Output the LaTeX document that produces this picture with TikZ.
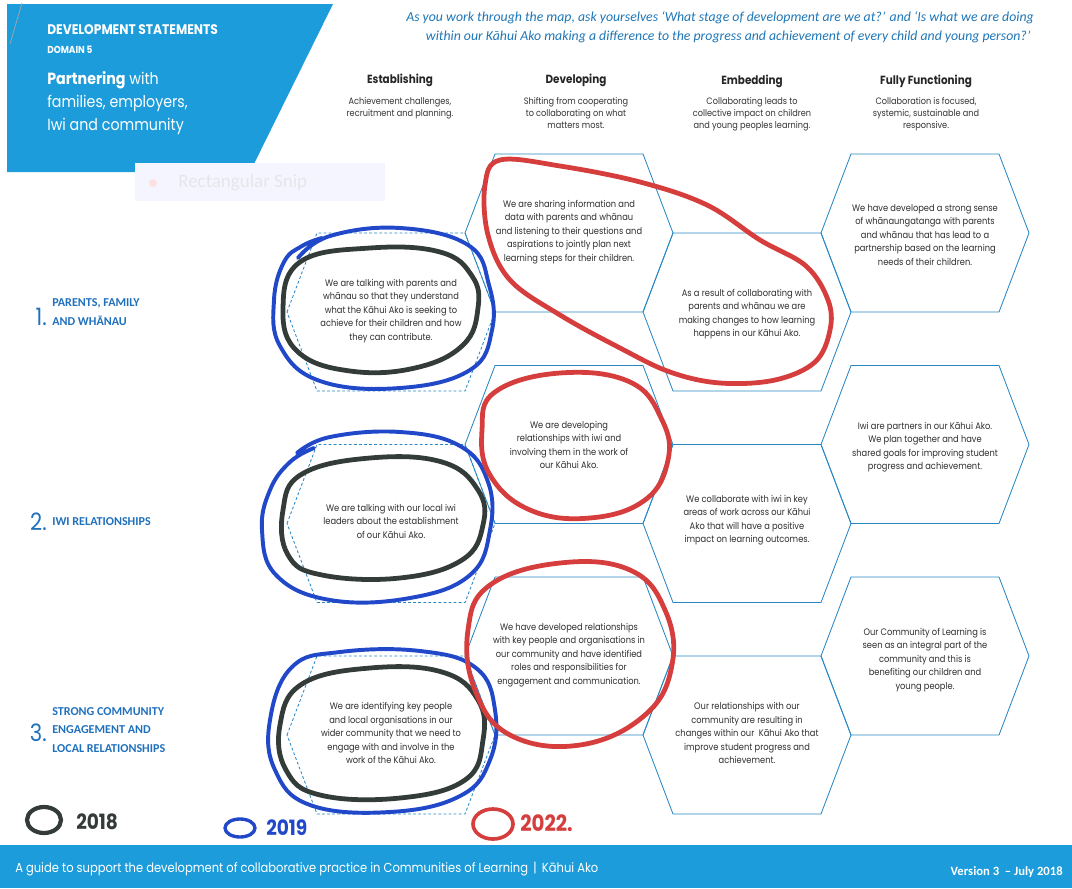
\documentclass[tikz,border=0pt]{standalone}
\usepackage{fontspec}
\setmainfont{Poppins}[FakeStretch=0.88]
\newfontfamily\calfont{Carlito}

\definecolor{guideblue}{RGB}{28,156,218}
\definecolor{hexblue}{RGB}{40,135,195}
\definecolor{rowblue}{RGB}{32,112,188}
\definecolor{asktext}{RGB}{30,118,182}
\definecolor{bodytext}{RGB}{45,45,45}
\definecolor{inkblack}{RGB}{52,60,57}
\definecolor{inkblue}{RGB}{32,72,200}
\definecolor{inkred}{RGB}{214,62,62}

\tikzset{
	hexline/.style={draw=hexblue, line width=0.6pt},
	hexdash/.style={hexline, dash pattern=on 2pt off 1.6pt},
	cell/.style={align=center, inner sep=0pt, text=bodytext, font=\fontsize{6.7}{9.6}\selectfont},
	stage/.style={inner sep=0pt, text=black!85, font=\fontsize{8.4}{10}\selectfont\bfseries},
	stagenote/.style={align=center, inner sep=0pt, text=black!80, font=\fontsize{6.6}{8.6}\selectfont},
	rownum/.style={anchor=east, inner sep=0pt, text=rowblue, font=\fontsize{17}{17}\selectfont},
	rowname/.style={anchor=west, align=left, inner sep=0pt, text=rowblue, font=\calfont\bfseries\fontsize{8.6}{13.4}\selectfont},
	ink/.style={line width=3.4pt, line cap=round, line join=round},
}

\begin{document}
\begin{tikzpicture}[x=0.025cm,y=-0.025cm]
	\useasboundingbox (0,0) rectangle (1072,888);

	% title panel and footer bar
	\fill[guideblue] (7,4) -- (333,4) -- (250,172) -- (7,172) -- cycle;
	\draw[gray!70, line width=0.5pt] (22,3) -- (10,44);
	\fill[guideblue] (0,845) rectangle (1072,888);

	\node[anchor=west, inner sep=0pt, text=white, font=\fontsize{9.9}{11}\selectfont\bfseries] (title) at (47,30) {DEVELOPMENT STATEMENTS};
	\node[anchor=west, inner sep=0pt, text=white, font=\fontsize{7.2}{9}\selectfont\bfseries] (domain) at (47,50) {DOMAIN 5};
	\node[anchor=north west, align=left, inner sep=0pt, text=white, font=\fontsize{11.5}{16.3}\selectfont] (theme) at (47,71) {\textbf{Partnering} with\\families, employers,\\Iwi and community};

	% faint leftover of a screen snip
	\fill[blue!4] (135,163) rectangle (385,201);
	\fill[red!12] (153,183) circle (4);
	\node[anchor=west, inner sep=0pt, text=blue!10!gray!18, font=\calfont\fontsize{13.5}{15}\selectfont] (snip) at (178,183) {Rectangular Snip};

	\node[align=center, inner sep=0pt, text=asktext, font=\calfont\itshape\fontsize{9.8}{13.4}\selectfont] (ask) at (720,27) {As you work through the map, ask yourselves ‘What stage of development are we at?’ and ‘Is what we are doing\\\hspace*{1.2em}within our Kāhui Ako making a difference to the progress and achievement of every child and young person?’};

	% stage headings
	\node[stage] (establishing) at (400,80) {Establishing};
	\node[stage] (developing) at (576,80) {Developing};
	\node[stage] (embedding) at (752,81) {Embedding};
	\node[stage] (fully) at (926,81) {Fully Functioning};
	\node[stagenote, anchor=north] (establishingnote) at (400,97) {Achievement challenges,\\recruitment and planning.};
	\node[stagenote, anchor=north] (developingnote) at (576,97) {Shifting from cooperating\\to collaborating on what\\matters most.};
	\node[stagenote, anchor=north] (embeddingnote) at (752,97) {Collaborating leads to\\collective impact on children\\and young peoples learning.};
	\node[stagenote, anchor=north] (fullynote) at (926,97) {Collaboration is focused,\\systemic, sustainable and\\responsive.};

	% rows
	\node[rownum] (num1) at (47,317) {1.};
	\node[rowname] (row1) at (52,312) {PARENTS, FAMILY\\AND WHĀNAU};
	\node[rownum] (num2) at (47,522) {2.};
	\node[rowname] (row2) at (52,522) {IWI RELATIONSHIPS};
	\node[rownum] (num3) at (47,733) {3.};
	\node[rowname] (row3) at (52,730) {STRONG COMMUNITY\\ENGAGEMENT AND\\LOCAL RELATIONSHIPS};

	% honeycomb
	\foreach \cx/\cy in {391/312,391/523.5,391/735}
		\draw[hexdash] (\cx-104,\cy) -- (\cx-74,\cy-79) -- (\cx+74,\cy-79) -- (\cx+104,\cy) -- (\cx+74,\cy+79) -- (\cx-74,\cy+79) -- cycle;
	\foreach \cx/\cy in {569/233,747/312,925/233,569/444.5,747/523.5,925/444.5,569/656,747/735,925/656}
		\draw[hexline] (\cx-104,\cy) -- (\cx-74,\cy-79) -- (\cx+74,\cy-79) -- (\cx+104,\cy) -- (\cx+74,\cy+79) -- (\cx-74,\cy+79) -- cycle;

	\node[cell] (est1) at (391,311) {We are talking with parents and\\whānau so that they understand\\what the Kāhui Ako is seeking to\\achieve for their children and how\\they can contribute.};
	\node[cell] (dev1) at (569,232) {We are sharing information and\\data with parents and whānau\\and listening to their questions and\\aspirations to jointly plan next\\learning steps for their children.};
	\node[cell] (emb1) at (747,314) {As a result of collaborating with\\parents and whānau we are\\making changes to how learning\\happens in our Kāhui Ako.};
	\node[cell] (full1) at (925,235) {We have developed a strong sense\\of whānaungatanga with parents\\and whānau that has lead to a\\partnership based on the learning\\needs of their children.};

	\node[cell] (est2) at (391,521) {We are talking with our local iwi\\leaders about the establishment\\of our Kāhui Ako.};
	\node[cell] (dev2) at (569,445) {We are developing\\relationships with iwi and\\involving them in the work of\\our Kāhui Ako.};
	\node[cell] (emb2) at (747,520) {We collaborate with iwi in key\\areas of work across our Kāhui\\Ako that will have a positive\\impact on learning outcomes.};
	\node[cell] (full2) at (925,447) {Iwi are partners in our Kāhui Ako.\\We plan together and have\\shared goals for improving student\\progress and achievement.};

	\node[cell] (est3) at (391,733) {We are identifying key people\\and local organisations in our\\wider community that we need to\\engage with and involve in the\\work of the Kāhui Ako.};
	\node[cell] (dev3) at (569,655) {We have developed relationships\\with key people and organisations in\\our community and have identified\\roles and responsibilities for\\engagement and communication.};
	\node[cell] (emb3) at (747,733) {Our relationships with our\\community are resulting in\\changes within our\ \ Kāhui Ako that\\improve student progress and\\achievement.};
	\node[cell] (full3) at (925,660) {Our Community of Learning is\\seen as an integral part of the\\community and this is\\benefiting our children and\\young people.};

	% pen marks
	\draw[ink, inkblack] plot[smooth cycle, tension=0.7] coordinates {(300,262) (370,248) (440,252) (472,276) (478,308) (463,345) (415,368) (350,371) (298,352) (283,310)};
	\draw[ink, inkblack] plot[smooth cycle, tension=0.7] coordinates {(302,474) (370,458) (442,462) (478,490) (483,525) (462,560) (400,578) (322,575) (288,555) (283,510)};
	\draw[ink, inkblack] plot[smooth cycle, tension=0.7] coordinates {(302,684) (370,668) (442,672) (478,700) (483,740) (465,780) (400,798) (320,795) (286,770) (280,725)};

	\draw[ink, inkblue, line width=2.8pt] plot[smooth, tension=0.7] coordinates {(298,258) (330,236) (400,228) (468,245) (489,285) (492,330) (470,370) (400,388) (320,381) (280,346) (274,300) (284,262) (302,246) (322,238)};
	\draw[ink, inkblue, line width=2.8pt] plot[smooth, tension=0.7] coordinates {(297,453) (330,437) (400,432) (460,446) (488,482) (490,530) (470,575) (410,598) (330,600) (276,575) (262,530) (270,490) (290,462) (314,448)};
	\draw[ink, inkblue, line width=2.8pt] plot[smooth cycle, tension=0.7] coordinates {(292,667) (340,652) (420,651) (476,668) (495,710) (490,760) (460,796) (390,812) (310,805) (275,770) (270,720)};

	\draw[ink, inkred] plot[smooth cycle, tension=0.6] coordinates {(500,160) (560,166) (640,182) (707,205) (760,240) (806,266) (828,300) (830,330) (815,362) (775,380) (720,383) (670,372) (620,348) (560,315) (510,280) (488,235) (485,185)};
	\draw[ink, inkred] plot[smooth cycle, tension=0.7] coordinates {(495,392) (560,373) (630,382) (662,420) (668,460) (645,500) (590,518) (530,510) (490,475) (482,430)};
	\draw[ink, inkred] plot[smooth cycle, tension=0.7] coordinates {(490,585) (560,563) (630,570) (665,610) (672,665) (645,715) (580,745) (510,735) (475,690) (468,630)};

	% year key
	\draw[ink, inkblack, line width=3pt] (44,820) ellipse (17 and 13);
	\node[anchor=west, inner sep=0pt, text=inkblack, font=\fontsize{15}{15}\selectfont\bfseries] (y2018) at (76,822) {2018};
	\draw[ink, inkblue, line width=2.4pt] (240,828) ellipse (15 and 9);
	\node[anchor=west, inner sep=0pt, text=inkblue, font=\fontsize{15}{15}\selectfont\bfseries] (y2019) at (266,828) {2019};
	\draw[ink, inkred, line width=2.6pt] (493,824) ellipse (20 and 15);
	\node[anchor=west, inner sep=0pt, text=inkred, font=\fontsize{16}{16}\selectfont\bfseries] (y2022) at (520,823) {2022.};

	% footer text
	\node[anchor=west, inner sep=0pt, text=white, font=\fontsize{9.3}{10}\selectfont] (guide) at (15,869) {A guide to support the development of collaborative practice in Communities of Learning \,|\, Kāhui Ako};
	\node[anchor=east, inner sep=0pt, text=white, font=\calfont\bfseries\fontsize{9}{10}\selectfont] (version) at (1063,872) {Version 3\ \ – July 2018};
\end{tikzpicture}
\end{document}
